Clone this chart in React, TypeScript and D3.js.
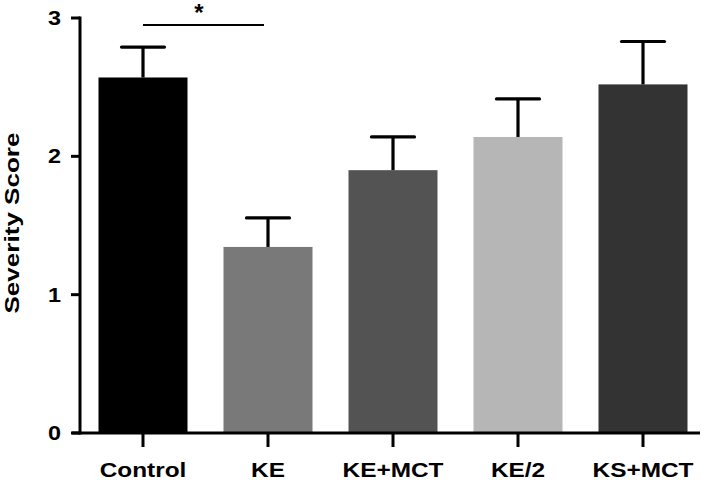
import React from "react";
import * as d3 from "d3";

const categories = ["Control", "KE", "KE+MCT", "KE/2", "KS+MCT"];
const means = [2.57, 1.345, 1.9, 2.14, 2.52];
const errors = [0.22, 0.21, 0.24, 0.275, 0.31];
const barColors = ["#000000", "#797979", "#535353", "#b6b6b6", "#333333"];
const yTicks = [0, 1, 2, 3];

const W = 709;
const H = 480;
const FONT = "'Liberation Sans', Arial, sans-serif";

export default function App() {
  const y = d3.scaleLinear().domain([0, 3]).range([433, 18]);
  const x = d3
    .scaleBand<string>()
    .domain(categories)
    .range([80, 706])
    .paddingInner(0.288)
    .paddingOuter(0.148);
  const bw = x.bandwidth();
  const cx = (c: string) => (x(c) as number) + bw / 2;
  const capHalf = 21.5;

  return (
    <div style={{ position: "fixed", left: 0, top: 0 }}>
      <svg width={W} height={H} style={{ display: "block", background: "#fff" }}>
        {categories.map((c, i) => (
          <rect
            key={c}
            x={x(c)}
            y={y(means[i])}
            width={bw}
            height={y(0) - y(means[i])}
            fill={barColors[i]}
          />
        ))}
        {categories.map((c, i) => (
          <g key={"e" + c} stroke="#000" strokeWidth={3.2}>
            <line x1={cx(c)} x2={cx(c)} y1={y(means[i])} y2={y(means[i] + errors[i])} />
            <line
              x1={cx(c) - capHalf}
              x2={cx(c) + capHalf}
              y1={y(means[i] + errors[i])}
              y2={y(means[i] + errors[i])}
              strokeLinecap="round"
            />
          </g>
        ))}
        {/* y axis */}
        <line x1={80} x2={80} y1={y(3) - 1.5} y2={y(0) + 1.5} stroke="#000" strokeWidth={3} />
        {yTicks.map((t) => (
          <g key={t}>
            <line x1={71} x2={80} y1={y(t)} y2={y(t)} stroke="#000" strokeWidth={3} />
            <text
              transform={`translate(61,${y(t) + 7}) scale(1.17,1)`}
              textAnchor="end"
              fontFamily={FONT}
              fontWeight="bold"
              fontSize={20}
              fill="#000"
            >
              {t}
            </text>
          </g>
        ))}
        {/* x axis */}
        <line x1={72} x2={700} y1={y(0)} y2={y(0)} stroke="#000" strokeWidth={3} />
        {categories.map((c) => (
          <g key={"t" + c}>
            <line x1={cx(c)} x2={cx(c)} y1={y(0)} y2={447} stroke="#000" strokeWidth={3} />
            <text
              transform={`translate(${cx(c)},477) scale(1.22,1)`}
              textAnchor="middle"
              fontFamily={FONT}
              fontWeight="bold"
              fontSize={20}
              fill="#000"
            >
              {c}
            </text>
          </g>
        ))}
        {/* y label */}
        <text
          transform="translate(19,223) rotate(-90)"
          textAnchor="middle"
          fontFamily={FONT}
          fontWeight="bold"
          fontSize={20}
          textLength={181}
          lengthAdjust="spacingAndGlyphs"
          fill="#000"
        >
          Severity Score
        </text>
        {/* significance */}
        <line x1={cx("Control")} x2={264} y1={25} y2={25} stroke="#000" strokeWidth={2} />
        <text
          x={199}
          y={21}
          textAnchor="middle"
          fontFamily={FONT}
          fontWeight="bold"
          fontSize={24}
          fill="#000"
        >
          *
        </text>
      </svg>
    </div>
  );
}
